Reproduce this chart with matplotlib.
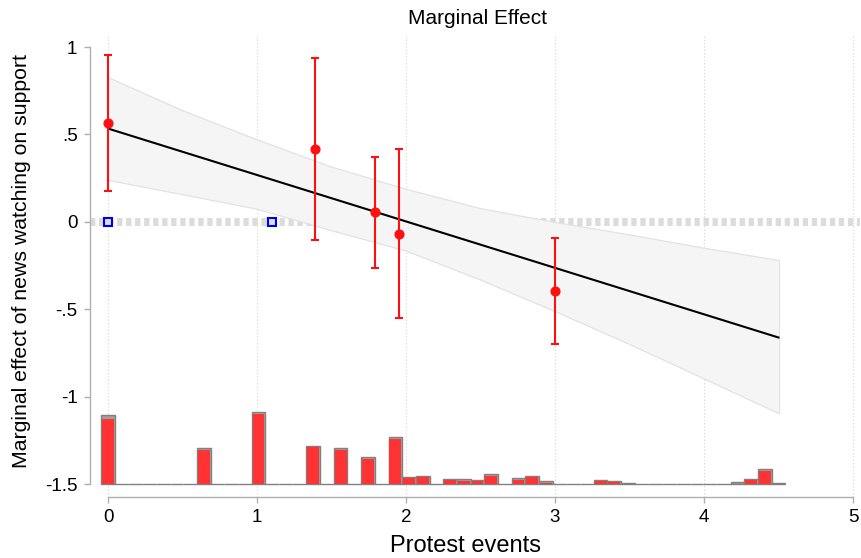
import numpy as np
import matplotlib
matplotlib.use("Agg")
import matplotlib.pyplot as plt

plt.rcParams["font.family"] = ["Liberation Sans", "DejaVu Sans"]

# ------------------------------------------------------------------
# Data
# ------------------------------------------------------------------
# point estimates with 95% intervals
pt_x = [0.0, 1.39, 1.79, 1.95, 3.0]
pt_y = [0.566, 0.418, 0.057, -0.069, -0.395]
pt_lo = [0.177, -0.103, -0.263, -0.549, -0.698]
pt_hi = [0.955, 0.938, 0.372, 0.418, -0.092]

# blue hollow squares on the zero line
sq_x = [0.0, 1.10]
sq_y = [0.0, 0.0]

# linear marginal-effect line
line_x = [0.0, 4.5]
line_y = [0.534, -0.661]

# confidence band
band_x = [0.0, 0.5, 1.0, 1.5, 2.0, 2.5, 3.0, 3.5, 4.0, 4.5]
band_hi = [0.826, 0.637, 0.470, 0.314, 0.187, 0.076, -0.003, -0.074, -0.150, -0.220]
band_lo = [0.238, 0.156, 0.073, -0.050, -0.166, -0.332, -0.512, -0.700, -0.897, -1.095]

# histogram of protest events (50 bins over 0..4.5), heights above -1.5
hist_all = [0.396, 0, 0, 0, 0, 0, 0, 0.208, 0, 0,
            0, 0.412, 0, 0, 0, 0.219, 0, 0.206, 0, 0.154,
            0, 0.269, 0.042, 0.047, 0, 0.032, 0.029, 0.025, 0.059, 0,
            0.034, 0.047, 0.019, 0, 0, 0, 0.025, 0.021, 0.009, 0,
            0, 0, 0, 0, 0, 0.003, 0.011, 0.030, 0.086, 0.007]
hist_sub = [0.372, 0, 0, 0, 0, 0, 0, 0.196, 0, 0,
            0, 0.400, 0, 0, 0, 0.212, 0, 0.198, 0, 0.145,
            0, 0.257, 0.036, 0.040, 0, 0.026, 0.021, 0.019, 0.047, 0,
            0.025, 0.040, 0.009, 0, 0, 0, 0.017, 0.013, 0.003, 0,
            0, 0, 0, 0, 0, 0, 0.004, 0.023, 0.076, 0]
HIST_BASE = -1.5

xticks = [0, 1, 2, 3, 4, 5]
yticks = [1, 0.5, 0, -0.5, -1, -1.5]
ytick_labels = ["1", ".5", "0", "-.5", "-1", "-1.5"]


def main():
    fig = plt.figure(figsize=(8.61, 5.58), dpi=100)
    W, H = 861, 558
    left, right, top, bottom = 90, 860, 35, 497
    ax = fig.add_axes([left / W, 1 - bottom / H, (right - left) / W, (bottom - top) / H])

    ax.set_xlim(-0.121, 5.047)
    ax.set_ylim(-1.573, 1.069)

    # vertical dotted grid
    for xv in xticks:
        ax.axvline(xv, color="#d4d4d4", linestyle=(0, (1, 2)), linewidth=0.8, zorder=0)

    # zero reference line (thick dashed)
    ax.axhline(0, color="#dcdcdc", linewidth=5.8, linestyle=(0, (0.66, 0.46)), zorder=1)

    # confidence band
    ax.fill_between(band_x, band_lo, band_hi, facecolor="#f5f5f5", edgecolor="none", zorder=2)
    ax.plot(band_x, band_hi, color="#e2e2e2", linewidth=0.9, zorder=2)
    ax.plot(band_x, band_lo, color="#e2e2e2", linewidth=0.9, zorder=2)
    ax.plot([band_x[-1], band_x[-1]], [band_lo[-1], band_hi[-1]], color="#e2e2e2",
            linewidth=0.9, zorder=2)

    # marginal effect line
    ax.plot(line_x, line_y, color="black", linewidth=1.5, zorder=3)

    # histogram
    nb = len(hist_all)
    width = 4.5 / (nb - 1)
    centers = np.arange(nb) * width
    ax.bar(centers, hist_all, width=width, bottom=HIST_BASE, color="#a0a0a0",
           edgecolor="#808080", linewidth=1.0, zorder=3)
    ax.bar(centers, hist_sub, width=width * 0.86, bottom=HIST_BASE, color="#ff3333",
           edgecolor="none", linewidth=0, zorder=4)

    # point estimates
    yerr = [np.array(pt_y) - np.array(pt_lo), np.array(pt_hi) - np.array(pt_y)]
    ax.errorbar(pt_x, pt_y, yerr=yerr, fmt="o", color="#ff1010", ecolor="#ff1010",
                markersize=6.3, elinewidth=1.5, capsize=3.2, capthick=1.5, zorder=5)

    # squares
    ax.plot(sq_x, sq_y, linestyle="none", marker="s", markersize=5.8,
            markerfacecolor="#dddddd", markeredgecolor="#0000ee", markeredgewidth=1.5,
            zorder=6)

    # axes styling (Stata-like)
    for s in ["top", "right"]:
        ax.spines[s].set_visible(False)
    ax.spines["left"].set_bounds(-1.5, 1)
    ax.spines["bottom"].set_bounds(0, 5)
    for s in ["left", "bottom"]:
        ax.spines[s].set_color("#b0b0b0")
        ax.spines[s].set_linewidth(1.0)

    ax.set_xticks(xticks)
    ax.set_xticklabels([str(v) for v in xticks])
    ax.set_yticks(yticks)
    ax.set_yticklabels(ytick_labels)
    ax.tick_params(axis="both", colors="#b0b0b0", labelcolor="black", length=4,
                   width=1.0, labelsize=13.5)
    ax.tick_params(axis="y", pad=5)
    ax.tick_params(axis="x", pad=5)

    fig.text(465 / W, 1 - 546 / H, "Protest events", ha="center", va="center", fontsize=17)
    fig.text(22 / W, 1 - 261 / H, "Marginal effect of news watching on support",
             ha="center", va="center", rotation=90, fontsize=15.3)
    fig.text(478 / W, 1 - 18 / H, "Marginal Effect", ha="center", va="center", fontsize=15)

    fig.savefig("out.png", dpi=100)
    plt.close("all")


if __name__ == "__main__":
    main()
